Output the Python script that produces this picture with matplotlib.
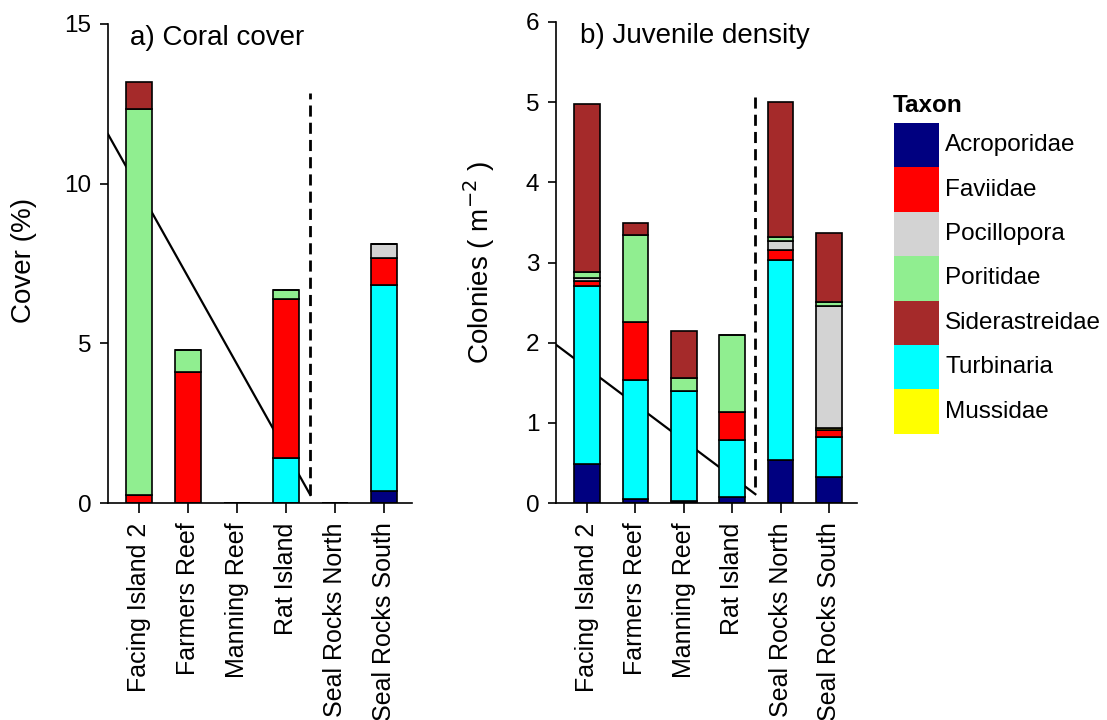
import matplotlib
matplotlib.use('Agg')
import matplotlib.pyplot as plt
from matplotlib.patches import Rectangle
import numpy as np

plt.rcParams['font.family'] = ['Liberation Sans', 'DejaVu Sans']
plt.rcParams['font.size'] = 17.5

# ---------------------------------------------------------------------------
#  Data
# ---------------------------------------------------------------------------
sites = ['Facing Island 2', 'Farmers Reef', 'Manning Reef', 'Rat Island',
         'Seal Rocks North', 'Seal Rocks South']

# stacking order, bottom to top
stack_taxa = ['Acroporidae', 'Turbinaria', 'Faviidae', 'Mussidae',
              'Pocillopora', 'Poritidae', 'Siderastreidae']
legend_taxa = ['Acroporidae', 'Faviidae', 'Pocillopora', 'Poritidae',
               'Siderastreidae', 'Turbinaria', 'Mussidae']
taxon_colours = {'Acroporidae': '#000080', 'Faviidae': '#FF0000',
                 'Pocillopora': '#D3D3D3', 'Poritidae': '#90EE90',
                 'Siderastreidae': '#A52A2A', 'Turbinaria': '#00FFFF',
                 'Mussidae': '#FFFF00'}

# a) coral cover (%)
cover_acro = [0, 0, 0, 0, 0, 0.38]
cover_turb = [0, 0, 0, 1.40, 0, 6.45]
cover_favi = [0.25, 4.11, 0, 5.00, 0, 0.83]
cover_muss = [0, 0, 0, 0, 0, 0]
cover_poci = [0, 0, 0, 0, 0, 0.46]
cover_pori = [12.08, 0.68, 0, 0.27, 0, 0]
cover_side = [0.84, 0, 0, 0, 0, 0]

# b) juvenile density (colonies m-2)
dens_acro = [0.49, 0.05, 0.03, 0.08, 0.54, 0.32]
dens_turb = [2.22, 1.49, 1.37, 0.71, 2.49, 0.50]
dens_favi = [0.06, 0.72, 0, 0.34, 0.12, 0.09]
dens_muss = [0, 0, 0, 0, 0, 0.03]
dens_poci = [0.04, 0, 0, 0, 0.12, 1.52]
dens_pori = [0.07, 1.08, 0.16, 0.96, 0.05, 0.05]
dens_side = [2.10, 0.15, 0.59, 0, 1.68, 0.86]

# trend lines and split markers
cover_trend_x = [-0.64, 3.50]
cover_trend_y = [11.55, 0.25]
cover_split_x = 3.50
cover_split_y = [0.25, 12.85]

dens_trend_x = [-0.63, 3.48]
dens_trend_y = [1.97, 0.11]
dens_split_x = 3.48
dens_split_y = [0.20, 5.11]

cover = dict(zip(stack_taxa, [cover_acro, cover_turb, cover_favi, cover_muss,
                              cover_poci, cover_pori, cover_side]))
dens = dict(zip(stack_taxa, [dens_acro, dens_turb, dens_favi, dens_muss,
                             dens_poci, dens_pori, dens_side]))

# ---------------------------------------------------------------------------
#  Figure
# ---------------------------------------------------------------------------
W, H = 1107, 720
fig = plt.figure(figsize=(W / 100, H / 100), dpi=100)


def px_axes(left, top, right, bottom):
    return fig.add_axes([left / W, 1 - bottom / H, (right - left) / W, (bottom - top) / H])


def panel(ax, data, ymax, yticks, title, title_x, ylabel, label_x, label_y,
          tx, ty, sx, sy):
    x = np.arange(len(sites))
    bottom = np.zeros(len(sites))
    for taxon in stack_taxa:
        vals = np.array(data[taxon], dtype=float)
        ax.bar(x, vals, bottom=bottom, width=0.53, color=taxon_colours[taxon],
               edgecolor='black', linewidth=1.2, zorder=2)
        bottom += vals
    ax.plot(tx, ty, color='black', lw=1.6, zorder=1, clip_on=True)
    ax.plot([sx, sx], sy, color='black', lw=2.0, ls=(0, (4, 2.2)), zorder=1)

    ax.set_xlim(-0.64, 5.58)
    ax.set_ylim(0, ymax)
    ax.set_yticks(yticks)
    ax.set_xticks(x)
    ax.set_xticklabels(sites, rotation=90, va='top', ha='center', fontsize=18)
    for s in ['top', 'right']:
        ax.spines[s].set_visible(False)
    for s in ['left', 'bottom']:
        ax.spines[s].set_linewidth(1.2)
    ax.tick_params(axis='x', length=7.5, width=1.2, pad=6.5)
    ax.tick_params(axis='y', length=6, width=1.2, pad=6)
    ax.text(title_x, 0.97, title, transform=ax.transAxes, fontsize=20,
            ha='left', va='center')
    ax.set_ylabel(ylabel, fontsize=20, va='center')
    ax.yaxis.set_label_coords(label_x, label_y)


ax1 = px_axes(108, 24, 412, 503)
panel(ax1, cover, 15, [0, 5, 10, 15], 'a) Coral cover', 0.072,
      'Cover (%)', -0.276, 0.507,
      cover_trend_x, cover_trend_y, cover_split_x, cover_split_y)

ax2 = px_axes(556, 22, 857, 503)
panel(ax2, dens, 6, [0, 1, 2, 3, 4, 5, 6], 'b) Juvenile density', 0.08,
      'Colonies ( m$^{-2}$ )', -0.255, 0.50,
      dens_trend_x, dens_trend_y, dens_split_x, dens_split_y)

# legend drawn by hand so the swatches touch
sw_left, sw_right, sw_top, row_h = 894, 939, 123, 44.4
fig.text(893 / W, 1 - 105 / H, 'Taxon', fontweight='bold', fontsize=17.5,
         ha='left', va='center')
for i, taxon in enumerate(legend_taxa):
    top = sw_top + i * row_h
    fig.patches.append(Rectangle((sw_left / W, 1 - (top + row_h) / H),
                                 (sw_right - sw_left) / W, row_h / H,
                                 transform=fig.transFigure,
                                 facecolor=taxon_colours[taxon], edgecolor='none'))
    fig.text(945 / W, 1 - (top + row_h / 2) / H, taxon, fontsize=17.5,
             ha='left', va='center')

fig.savefig('out.png', dpi=100)
